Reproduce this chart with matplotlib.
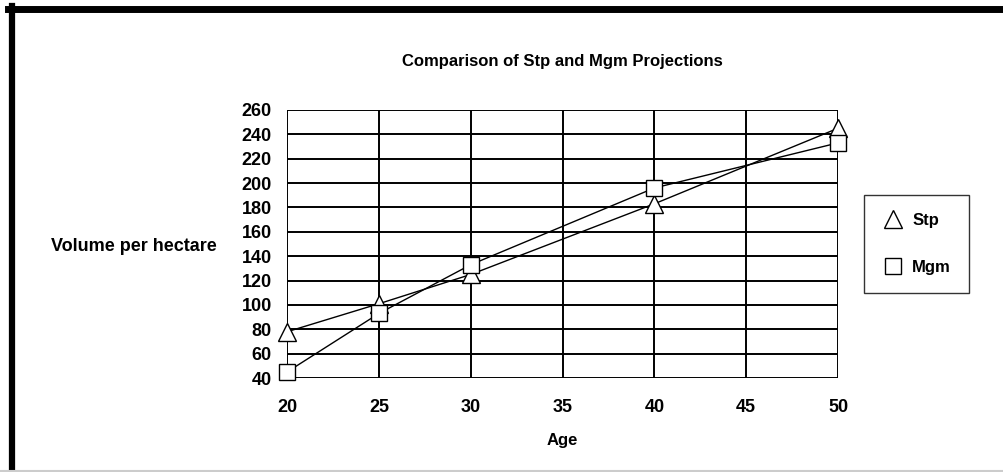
import matplotlib.pyplot as plt
from matplotlib.lines import Line2D

plt.rcParams['font.family'] = ['Liberation Sans', 'DejaVu Sans']

ages = [20, 25, 30, 40, 50]
stp = [78, 101, 125, 183, 245]
mgm = [45, 93, 133, 196, 233]
xticks = [20, 25, 30, 35, 40, 45, 50]
yticks = list(range(40, 261, 20))

fig = plt.figure(figsize=(10.04, 4.72), dpi=100)
ax = fig.add_axes([0.2859, 0.199, 0.5488, 0.568])

ax.plot(ages, stp, color='black', lw=1.0, marker='^', ms=13,
        mfc='white', mec='black', mew=1.0, label='Stp', zorder=3,
        clip_on=False)
ax.plot(ages, mgm, color='black', lw=1.0, marker='s', ms=12,
        mfc='white', mec='black', mew=1.0, label='Mgm', zorder=3,
        clip_on=False)

ax.set_xlim(20, 50)
ax.set_ylim(40, 260)
ax.set_xticks(xticks)
ax.set_yticks(yticks)
ax.grid(True, color='black', lw=1.4)
ax.set_axisbelow(True)
for s in ax.spines.values():
    s.set_visible(False)
ax.tick_params(length=0, labelsize=13)
ax.tick_params(axis='y', pad=11)
ax.tick_params(axis='x', pad=15)
for lab in ax.get_xticklabels() + ax.get_yticklabels():
    lab.set_fontweight('bold')

ax.set_title('Comparison of Stp and Mgm Projections', fontsize=12,
             fontweight='bold', pad=32)
ax.set_xlabel('Age', fontsize=12, fontweight='bold', labelpad=12)
fig.text(0.133, 0.477, 'Volume per hectare', fontsize=13, fontweight='bold',
         ha='center', va='center')

leg = ax.legend(loc='center left', bbox_to_anchor=(1.047, 0.50), frameon=True,
                fancybox=False, edgecolor='black',
                prop={'weight': 'bold', 'size': 12}, handlelength=1.3,
                labelspacing=1.9, borderpad=1.1, handletextpad=0.5,
                borderaxespad=0)
leg.get_frame().set_linewidth(1.0)
for h in leg.legend_handles:
    h.set_linestyle('none')

# page frame: heavy rule along top and left, faint rule along bottom
fig.add_artist(Line2D([0.008, 1.0], [1 - 8.5 / 472] * 2, color='black',
                      lw=5.0, transform=fig.transFigure))
fig.add_artist(Line2D([12 / 1004] * 2, [1 - 6 / 472, 0.0], color='black',
                      lw=4.5, transform=fig.transFigure))
fig.add_artist(Line2D([0.0, 1.0], [1.5 / 472] * 2, color='#cccccc',
                      lw=1.5, transform=fig.transFigure))

fig.savefig('out.png', dpi=100)
